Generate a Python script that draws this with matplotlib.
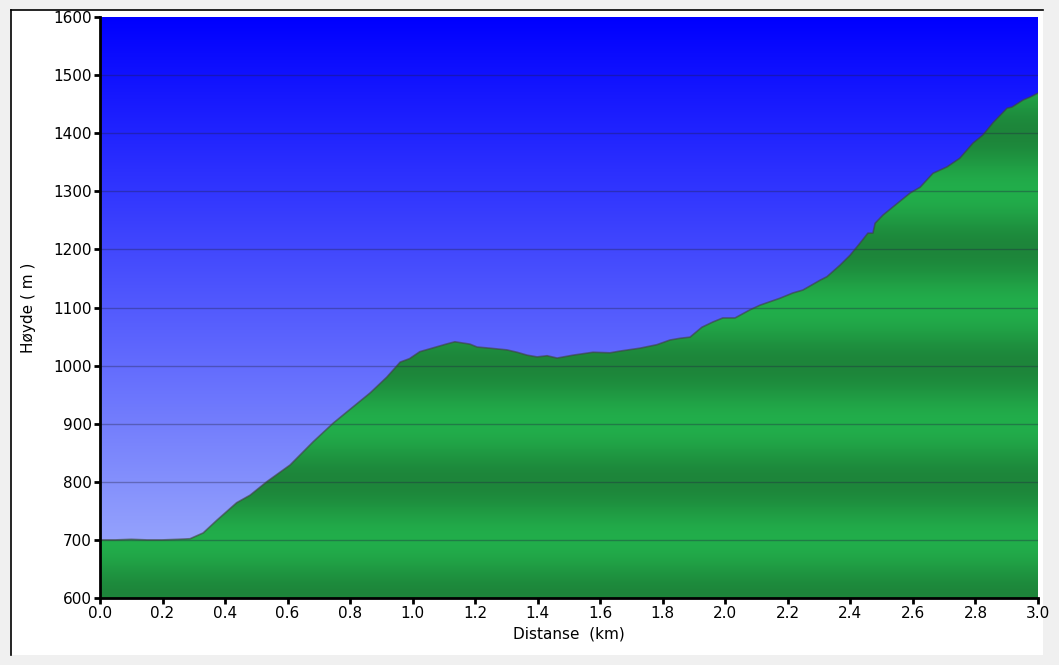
import numpy as np
import matplotlib
matplotlib.use('Agg')
import matplotlib.pyplot as plt
from matplotlib.patches import Rectangle
from matplotlib.lines import Line2D

# elevation profile
dist = [0.0, 0.05, 0.1, 0.15, 0.2, 0.25, 0.288, 0.33, 0.374, 0.437, 0.48, 0.533,
        0.608, 0.682, 0.746, 0.789, 0.864, 0.917, 0.96, 0.99, 1.023, 1.062, 1.107,
        1.135, 1.183, 1.206, 1.247, 1.302, 1.334, 1.366, 1.398, 1.43, 1.462, 1.513,
        1.577, 1.631, 1.663, 1.727, 1.781, 1.823, 1.855, 1.887, 1.925, 1.96, 1.992,
        2.031, 2.079, 2.111, 2.175, 2.216, 2.248, 2.303, 2.325, 2.367, 2.399, 2.431,
        2.456, 2.472, 2.479, 2.504, 2.536, 2.591, 2.623, 2.664, 2.709, 2.75, 2.792,
        2.824, 2.856, 2.901, 2.917, 2.952, 2.974, 3.0]
elev = [700, 700, 701, 700, 700, 701, 702, 712, 734, 764, 777, 800,
        829, 869, 901, 920, 953, 980, 1006, 1012, 1024, 1030, 1037,
        1041, 1037, 1032, 1030, 1027, 1023, 1018, 1015, 1017, 1013, 1018,
        1023, 1022, 1025, 1030, 1036, 1044, 1047, 1049, 1066, 1075, 1082,
        1082, 1096, 1104, 1116, 1125, 1130, 1147, 1153, 1173, 1190, 1211,
        1228, 1228, 1245, 1259, 1273, 1297, 1307, 1331, 1342, 1357, 1383,
        1397, 1418, 1443, 1445, 1457, 1462, 1469]
xticks = [0.0, 0.2, 0.4, 0.6, 0.8, 1.0, 1.2, 1.4, 1.6, 1.8, 2.0, 2.2, 2.4, 2.6, 2.8, 3.0]
yticks = [600, 700, 800, 900, 1000, 1100, 1200, 1300, 1400, 1500, 1600]

W, H = 1059, 665
fig = plt.figure(figsize=(W / 100, H / 100), dpi=100, facecolor='#f0f0f0')

# white panel with black top/left edge
fig.patches.append(Rectangle((11 / W, 1 - 655 / H), 1032 / W, 645 / H,
                             transform=fig.transFigure, facecolor='white',
                             edgecolor='none', zorder=-10))
fig.lines.append(Line2D([11 / W, 11 / W], [1 - 655 / H, 1 - 10 / H],
                        transform=fig.transFigure, color='black', lw=1.2, zorder=-5))
fig.lines.append(Line2D([11 / W, 1043 / W], [1 - 10 / H, 1 - 10 / H],
                        transform=fig.transFigure, color='black', lw=1.2, zorder=-5))

ax = fig.add_axes([100 / W, 1 - 598 / H, 938 / W, 581 / H])
x0, x1, y0, y1 = 0.0, 3.0, 600, 1600

# blue sky gradient
top = np.array([0, 0, 255]) / 255
bot = np.array([165, 180, 252]) / 255
t = np.linspace(0, 1, 256)[:, None]
sky = (top * (1 - t) + bot * t)[:, None, :]
ax.imshow(sky, extent=[x0, x1, y0, y1], aspect='auto', zorder=0)

# green banded gradient, period 200 m
ys = np.linspace(y1, y0, 1000)
phase = np.cos((ys - 800) / 200 * 2 * np.pi)  # 1 at even hundreds -> dark
light = np.array([34, 174, 75]) / 255
dark = np.array([29, 133, 58]) / 255
w = ((phase + 1) / 2)[:, None]
green = (light * (1 - w) + dark * w)[:, None, :]
poly = ax.fill_between(dist, elev, y0, color='none', zorder=1)
img = ax.imshow(green, extent=[x0, x1, y0, y1], aspect='auto', zorder=1)
img.set_clip_path(poly.get_paths()[0], transform=ax.transData)
ax.plot(dist, elev, color='#404040', alpha=0.6, lw=1.2, zorder=3)

for yv in yticks[1:-1]:
    ax.axhline(yv, color='#202040', alpha=0.35, lw=1, zorder=2)

ax.set_xlim(x0, x1)
ax.set_ylim(y0, y1)
ax.set_xticks(xticks)
ax.set_xticklabels([f'{v:.1f}' for v in xticks])
ax.set_yticks(yticks)
for s in ['top', 'right']:
    ax.spines[s].set_visible(False)
for s in ['left', 'bottom']:
    ax.spines[s].set_linewidth(2)
    ax.spines[s].set_zorder(5)
ax.tick_params(direction='out', length=4, width=2, labelsize=11, pad=2)
ax.set_xlabel('Distanse  (km)', fontsize=11, labelpad=4)
ax.set_ylabel('Høyde ( m )', fontsize=11, labelpad=12)

fig.savefig('out.png', dpi=100, facecolor=fig.get_facecolor())
